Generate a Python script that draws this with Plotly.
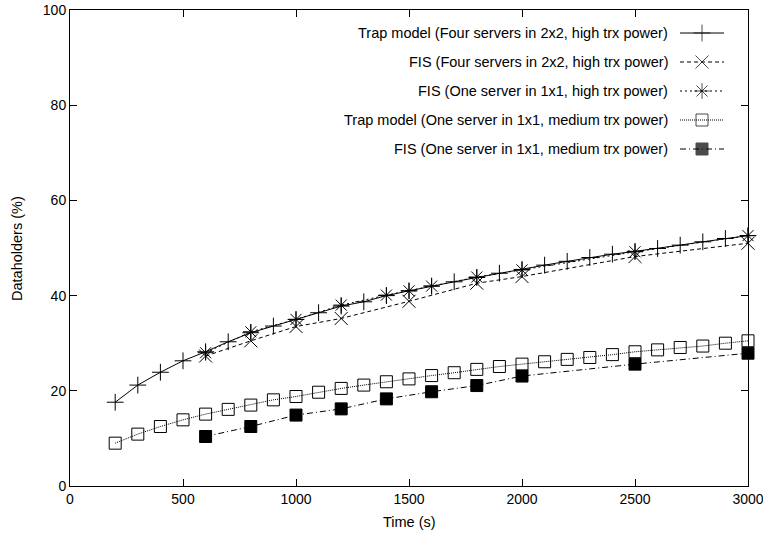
import plotly.graph_objects as go

# ---- data ----
trap_2x2_x = [200, 300, 400, 500, 600, 700, 800, 900, 1000, 1100, 1200, 1300, 1400, 1500,
              1600, 1700, 1800, 1900, 2000, 2100, 2200, 2300, 2400, 2500, 2600, 2700, 2800, 2900, 3000]
trap_2x2_y = [17.6, 21.2, 23.9, 26.3, 28.2, 30.3, 32.2, 33.6, 35.0, 36.4, 37.8, 38.7, 40.0, 41.0,
              42.0, 42.9, 43.8, 44.7, 45.5, 46.4, 47.2, 48.0, 48.7, 49.3, 49.9, 50.6, 51.3, 52.0, 52.6]

fis_2x2_x = [600, 800, 1000, 1200, 1500, 1800, 2000, 2500, 3000]
fis_2x2_y = [27.3, 30.5, 33.5, 35.2, 38.8, 42.6, 44.0, 48.2, 51.0]

fis_1x1_high_x = [600, 800, 1000, 1200, 1400, 1500, 1600, 1800, 2000, 2500, 3000]
fis_1x1_high_y = [28.0, 32.4, 35.0, 38.0, 40.1, 41.0, 42.0, 43.9, 45.4, 49.2, 52.6]

trap_1x1_med_x = [200, 300, 400, 500, 600, 700, 800, 900, 1000, 1100, 1200, 1300, 1400, 1500,
                  1600, 1700, 1800, 1900, 2000, 2100, 2200, 2300, 2400, 2500, 2600, 2700, 2800, 2900, 3000]
trap_1x1_med_y = [9.0, 10.9, 12.5, 13.9, 15.1, 16.1, 17.0, 18.1, 18.8, 19.7, 20.5, 21.2, 21.9, 22.5,
                  23.2, 23.8, 24.5, 25.1, 25.6, 26.1, 26.6, 27.0, 27.6, 28.2, 28.6, 29.1, 29.4, 30.0, 30.5]

fis_1x1_med_x = [600, 800, 1000, 1200, 1400, 1600, 1800, 2000, 2500, 3000]
fis_1x1_med_y = [10.4, 12.5, 14.9, 16.2, 18.3, 19.8, 21.1, 23.1, 25.6, 27.9]

names = [
    "Trap model (Four servers in 2x2, high trx power)",
    "FIS (Four servers in 2x2, high trx power)",
    "FIS (One server in 1x1, high trx power)",
    "Trap model (One server in 1x1, medium trx power)",
    "FIS (One server in 1x1, medium trx power)",
]
xticks = [0, 500, 1000, 1500, 2000, 2500, 3000]
yticks = [0, 20, 40, 60, 80, 100]

# ---- styles ----
FONT = "Liberation Sans, Arial, Helvetica, sans-serif"
TXT = 14.5
styles = [
    dict(dash="solid", symbol="cross-thin", size=12, fill=None),
    dict(dash="4px,3px", symbol="x-thin", size=13, fill=None),
    dict(dash="2px,3px", symbol="asterisk-open", size=13, fill=None),
    dict(dash="1px,1px", symbol="square-open", size=12, fill=None),
    dict(dash="6px,3px,1px,3px", symbol="square", size=12, fill="black"),
]
series = [
    (trap_2x2_x, trap_2x2_y),
    (fis_2x2_x, fis_2x2_y),
    (fis_1x1_high_x, fis_1x1_high_y),
    (trap_1x1_med_x, trap_1x1_med_y),
    (fis_1x1_med_x, fis_1x1_med_y),
]

fig = go.Figure()
for (xs, ys), st, nm in zip(series, styles, names):
    fig.add_trace(go.Scatter(
        x=xs, y=ys, name=nm, mode="lines+markers",
        line=dict(color="black", width=1, dash=st["dash"]),
        marker=dict(symbol=st["symbol"], size=st["size"],
                    color=st["fill"] or "black",
                    line=dict(color="black", width=1)),
        showlegend=False, cliponaxis=False,
    ))

# ---- manual legend (gnuplot style: text left, sample right) ----
L, R, T, B = 70, 15, 10, 49
W, H = 763, 535
row_y = [33, 62, 91, 120, 149]
text_right = 670
samp_x0, samp_xm, samp_x1 = 680, 702, 724
for i, (st, nm) in enumerate(zip(styles, names)):
    fig.add_trace(go.Scatter(
        x=[samp_x0, samp_xm, samp_x1], y=[row_y[i]] * 3, mode="lines+markers",
        xaxis="x2", yaxis="y2", showlegend=False, hoverinfo="skip",
        line=dict(color="black", width=1, dash=st["dash"]),
        marker=dict(symbol=st["symbol"], size=[0, st["size"], 0],
                    color=st["fill"] or "black",
                    line=dict(color="black", width=1)),
    ))
    fig.add_annotation(
        xref="x2", yref="y2", x=text_right, y=row_y[i], text=nm,
        showarrow=False, xanchor="right", yanchor="middle",
        font=dict(family=FONT, size=TXT, color="black"),
    )

axis_common = dict(
    showgrid=False, zeroline=False, showline=True, linecolor="black", linewidth=1,
    ticks="inside", ticklen=7, tickcolor="black", tickwidth=1, mirror="ticks",
    tickfont=dict(family=FONT, size=14, color="black"), automargin=False,
    ticklabeloverflow="allow",
)
fig.update_layout(
    width=W, height=H,
    margin=dict(l=L, r=R, t=T, b=B, pad=0, autoexpand=False),
    paper_bgcolor="white", plot_bgcolor="white",
    xaxis=dict(range=[0, 3000], tickvals=xticks, **axis_common),
    yaxis=dict(range=[0, 100], tickvals=yticks, **axis_common),
    xaxis2=dict(range=[L, W - R], overlaying="x", visible=False, fixedrange=True, automargin=False),
    yaxis2=dict(range=[H - B, T], overlaying="y", visible=False, fixedrange=True, automargin=False),
    showlegend=False,
)
fig.add_annotation(xref="paper", yref="paper", x=0.5, y=-(522 - (H - B)) / (H - T - B),
                   text="Time (s)", showarrow=False, xanchor="center", yanchor="middle",
                   font=dict(family=FONT, size=TXT, color="black"))
fig.add_annotation(xref="paper", yref="paper", x=-(L - 17) / (W - L - R), y=0.5,
                   text="Dataholders (%)", showarrow=False, textangle=-90,
                   xanchor="center", yanchor="middle",
                   font=dict(family=FONT, size=TXT, color="black"))

fig.write_html("out.html")
